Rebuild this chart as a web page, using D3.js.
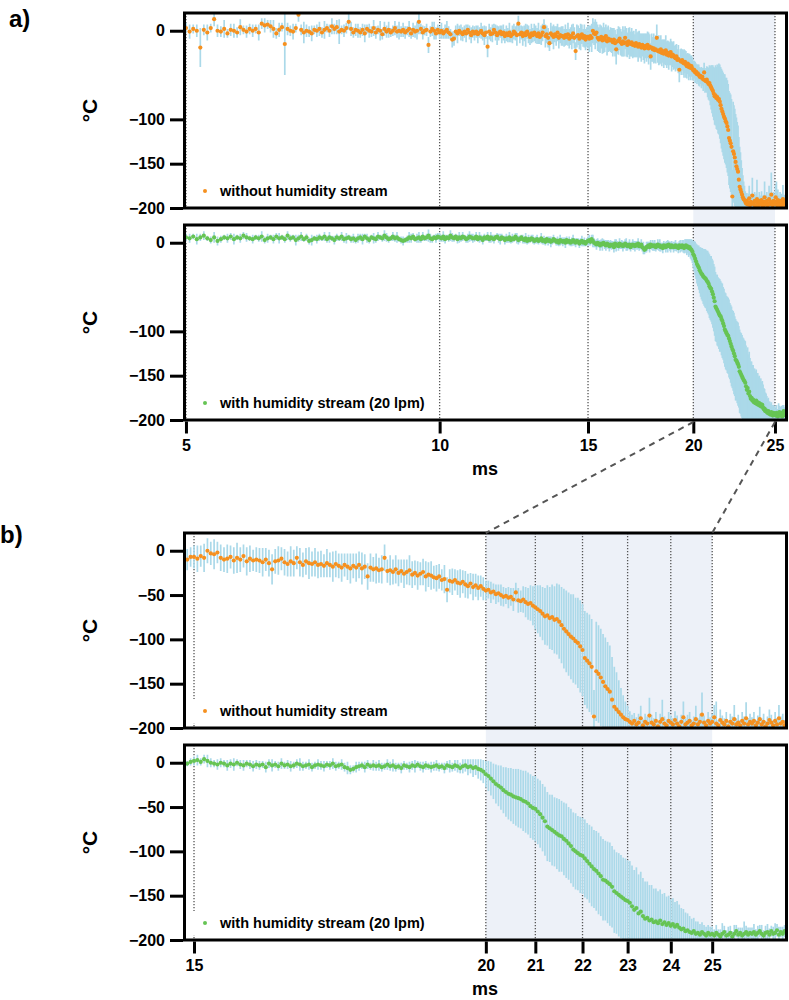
<!DOCTYPE html>
<html><head><meta charset="utf-8">
<script src="https://cdn.jsdelivr.net/npm/d3@7"></script>
<style>
body{margin:0;background:#fff}
svg{display:block}
text{font-family:"Liberation Sans",Arial,Helvetica,sans-serif;font-weight:bold;fill:#000}
</style></head><body>
<svg id="chart" width="789" height="1000"></svg>
<script>
// ---------- DATA ----------
const timeMs = [
5.00,5.05,5.10,5.15,5.20,5.25,5.30,5.35,5.40,5.45,5.50,5.55,5.60,5.65,5.70,5.75,5.80,5.85,5.90,5.95,
6.00,6.05,6.10,6.15,6.20,6.25,6.30,6.35,6.40,6.45,6.50,6.55,6.60,6.65,6.70,6.75,6.80,6.85,6.90,6.95,
7.00,7.05,7.10,7.15,7.20,7.25,7.30,7.35,7.40,7.45,7.50,7.55,7.60,7.65,7.70,7.75,7.80,7.85,7.90,7.95,
8.00,8.05,8.10,8.15,8.20,8.25,8.30,8.35,8.40,8.45,8.50,8.55,8.60,8.65,8.70,8.75,8.80,8.85,8.90,8.95,
9.00,9.05,9.10,9.15,9.20,9.25,9.30,9.35,9.40,9.45,9.50,9.55,9.60,9.65,9.70,9.75,9.80,9.85,9.90,9.95,
10.00,10.05,10.10,10.15,10.20,10.25,10.30,10.35,10.40,10.45,10.50,10.55,10.60,10.65,10.70,10.75,10.80,10.85,10.90,10.95,
11.00,11.05,11.10,11.15,11.20,11.25,11.30,11.35,11.40,11.45,11.50,11.55,11.60,11.65,11.70,11.75,11.80,11.85,11.90,11.95,
12.00,12.05,12.10,12.15,12.20,12.25,12.30,12.35,12.40,12.45,12.50,12.55,12.60,12.65,12.70,12.75,12.80,12.85,12.90,12.95,
13.00,13.05,13.10,13.15,13.20,13.25,13.30,13.35,13.40,13.45,13.50,13.55,13.60,13.65,13.70,13.75,13.80,13.85,13.90,13.95,
14.00,14.05,14.10,14.15,14.20,14.25,14.30,14.35,14.40,14.45,14.50,14.55,14.60,14.65,14.70,14.75,14.80,14.85,14.90,14.95,
15.00,15.05,15.10,15.15,15.20,15.25,15.30,15.35,15.40,15.45,15.50,15.55,15.60,15.65,15.70,15.75,15.80,15.85,15.90,15.95,
16.00,16.05,16.10,16.15,16.20,16.25,16.30,16.35,16.40,16.45,16.50,16.55,16.60,16.65,16.70,16.75,16.80,16.85,16.90,16.95,
17.00,17.05,17.10,17.15,17.20,17.25,17.30,17.35,17.40,17.45,17.50,17.55,17.60,17.65,17.70,17.75,17.80,17.85,17.90,17.95,
18.00,18.05,18.10,18.15,18.20,18.25,18.30,18.35,18.40,18.45,18.50,18.55,18.60,18.65,18.70,18.75,18.80,18.85,18.90,18.95,
19.00,19.05,19.10,19.15,19.20,19.25,19.30,19.35,19.40,19.45,19.50,19.55,19.60,19.65,19.70,19.75,19.80,19.85,19.90,19.95,
20.00,20.05,20.10,20.15,20.20,20.25,20.30,20.35,20.40,20.45,20.50,20.55,20.60,20.65,20.70,20.75,20.80,20.85,20.90,20.95,
21.00,21.05,21.10,21.15,21.20,21.25,21.30,21.35,21.40,21.45,21.50,21.55,21.60,21.65,21.70,21.75,21.80,21.85,21.90,21.95,
22.00,22.05,22.10,22.15,22.20,22.25,22.30,22.35,22.40,22.45,22.50,22.55,22.60,22.65,22.70,22.75,22.80,22.85,22.90,22.95,
23.00,23.05,23.10,23.15,23.20,23.25,23.30,23.35,23.40,23.45,23.50,23.55,23.60,23.65,23.70,23.75,23.80,23.85,23.90,23.95,
24.00,24.05,24.10,24.15,24.20,24.25,24.30,24.35,24.40,24.45,24.50,24.55,24.60,24.65,24.70,24.75,24.80,24.85,24.90,24.95,
25.00,25.05,25.10,25.15,25.20,25.25,25.30,25.35,25.40,25.45,25.50,25.55,25.60,25.65,25.70,25.75,25.80,25.85,25.90,25.95,
26.00,26.05,26.10,26.15,26.20,26.25,26.30,26.35,26.40,26.45,26.50,26.55,26.60,26.65,26.70,26.75,26.80,26.85,26.90
];
// without humidity stream (°C)
const tempDry = [
3,-1,2,0,-19,1,-2,3,13,0,-1,2,-3,1,0,-2,4,1,-1,2,
0,2,-2,8,6,7,5,2,-3,1,4,-15,2,0,-1,3,18,1,-2,0,
-1,-3,1,0,2,-2,1,3,0,5,2,4,-1,1,0,3,10,2,-2,1,
0,-2,1,-3,2,0,-1,3,-2,1,0,-4,2,-1,1,-2,0,3,-1,0,
-1,1,-2,0,2,-3,1,-1,0,10,2,-2,0,1,-16,-1,2,0,-3,1,
-2,0,-3,-1,1,-2,-4,-10,-9,-1,-3,0,-2,-4,-1,-3,1,-2,-5,-1,
-3,-1,-4,-2,0,-3,-5,-2,-18,-1,-4,-3,1,-2,-5,-3,-1,-4,-2,-6,
-3,-5,-2,-6,-4,-1,-3,-5,8,-4,-2,-6,-3,-5,-1,-4,-7,-3,-5,-2,
-4,-6,-3,-7,-5,-2,4,-6,-4,-8,-14,-3,-5,-7,-4,-6,-2,-8,-5,-6,
-6,-8,-5,-7,-4,-9,-6,-7,-3,-8,-23,-6,-5,-9,-7,-4,-8,-6,-10,-7,
-7,-9,-6,-8,0,-3,-4,-2,-8,-10,-9,-7,-11,-8,-10,-6,-12,-9,-11,-10,
-11,-13,-10,-14,-21,-12,-11,-9,-13,-15,-12,-14,-8,-13,-16,-12,-14,-15,-13,-16,
-15,-17,-14,-16,-18,-15,-17,-19,-16,-18,-20,-17,-19,-16,-20,-18,-29,-19,-21,-20,
-22,-21,-8,-23,-22,-24,-21,-25,-23,-26,-24,-22,-27,-25,-28,-26,-24,-29,-27,-28,
-30,-31,-29,-33,-32,-44,-34,-35,-33,-36,-37,-35,-38,-40,-37,-41,-39,-42,-40,-43,
-45,-44,-47,-46,-49,-48,-50,-52,-51,-53,-52,-55,-47,-56,-57,-55,-58,-60,-59,-62,
-64,-66,-68,-71,-74,-73,-76,-75,-78,-77,-80,-84,-88,-91,-94,-97,-99,-102,-104,-108,
-112,-121,-124,-127,-131,-187,-136,-139,-143,-148,-153,-156,-159,-168,-176,-179,-182,-185,-188,-190,
-191,-193,-195,-192,-196,-194,-189,-197,-193,-195,-186,-194,-196,-192,-198,-193,-190,-195,-197,-192,
-194,-196,-191,-195,-198,-193,-188,-196,-194,-192,-197,-195,-190,-196,-193,-185,-194,-197,-192,-195,
-193,-188,-195,-197,-191,-194,-196,-192,-198,-193,-195,-190,-196,-194,-197,-192,-195,-189,-196,-193,
-195,-192,-197,-194,-190,-196,-193,-198,-195,-191,-194,-197,-192,-196,-189,-195,-193,-197,-194
];
const errDry = [
6,8,5,7,22,6,9,5,8,7,6,10,5,7,8,6,9,5,7,6,
7,5,9,6,8,5,7,10,6,8,5,35,7,6,9,5,8,6,12,7,
6,9,5,7,8,6,10,5,7,9,6,8,14,5,7,6,9,8,6,7,
8,6,7,10,5,8,6,9,7,5,11,6,8,7,9,5,6,8,7,10,
6,8,7,5,9,6,8,7,10,14,6,8,5,7,9,6,8,10,7,6,
7,9,6,8,10,7,6,9,8,7,11,6,9,8,7,10,6,8,9,7,
8,7,10,6,9,8,11,7,12,9,8,10,7,9,11,8,7,10,9,8,
9,8,11,7,10,9,8,12,9,10,8,11,9,13,8,10,9,11,8,10,
10,9,12,8,11,10,9,13,10,11,9,12,10,14,9,11,10,12,9,11,
11,10,12,9,13,11,10,14,11,12,10,13,11,12,15,11,10,13,12,11,
13,15,12,16,14,13,17,12,15,14,16,13,15,17,14,13,16,15,12,14,
14,16,13,15,17,14,16,13,15,14,17,15,13,16,14,15,18,14,16,15,
15,13,16,14,17,15,14,16,13,15,17,14,16,15,18,14,15,16,14,17,
14,16,15,13,17,14,16,15,13,16,14,17,15,14,16,13,15,17,14,16,
13,15,14,12,16,14,13,15,12,14,16,13,15,14,12,15,13,14,12,13,
11,10,12,9,11,10,12,11,9,12,10,13,11,14,12,15,17,18,20,22,
25,27,29,30,32,34,35,37,38,40,42,43,45,46,47,48,50,49,51,52,
52,53,54,55,54,30,56,55,55,54,55,53,52,48,45,42,36,30,25,20,
16,12,10,9,8,10,14,7,9,8,20,9,7,10,6,9,22,8,7,10,
8,7,10,9,6,8,18,7,9,10,6,8,15,7,9,25,8,6,10,7,
9,14,25,6,12,8,7,10,6,9,8,16,7,9,6,10,8,18,7,9,
7,10,6,8,14,7,9,6,8,12,9,6,10,7,15,8,9,6,8
];
// with humidity stream, 20 lpm (°C)
const tempHumid = [
6,5,7,4,6,8,5,3,6,2,4,6,5,7,4,6,5,8,6,5,
4,6,5,7,3,5,6,4,7,5,6,4,8,5,6,3,5,7,4,6,
2,3,5,4,6,5,7,4,6,5,3,6,5,7,4,5,6,4,5,3,
5,6,4,7,5,3,6,5,4,7,6,5,8,6,4,5,7,5,6,4,
3,2,3,4,6,5,7,4,5,6,4,7,5,6,8,5,4,6,5,7,
6,5,7,4,6,5,8,6,5,7,4,6,5,7,6,4,5,7,6,5,
5,7,4,6,5,3,6,5,7,4,6,5,4,6,7,5,4,6,5,3,
5,4,6,3,5,4,7,5,3,4,6,4,3,5,2,4,3,5,4,2,
3,4,2,3,5,2,3,1,4,2,3,1,2,4,3,1,2,0,3,2,
1,2,0,3,1,2,0,1,3,1,0,2,1,-1,1,2,0,1,-1,1,
2,3,1,4,2,0,-1,-2,0,-1,-3,-1,-2,0,-2,-3,-1,-2,-4,-2,
-3,-2,-5,-1,-3,-2,-4,-1,-3,-2,-4,-3,-1,-2,-4,-3,-2,-5,-3,-2,
-3,-4,-2,-3,-1,-4,-3,-2,-5,-6,-8,-7,-5,-4,-3,-5,-2,-4,-3,-4,
-3,-5,-4,-2,-4,-3,-5,-4,-6,-3,-4,-5,-3,-4,-2,-4,-5,-3,-4,-5,
-4,-3,-5,-4,-6,-3,-4,-5,-3,-4,-6,-4,-3,-5,-4,-6,-5,-7,-8,-10,
-13,-15,-18,-21,-24,-26,-28,-31,-33,-35,-36,-38,-39,-40,-41,-43,-44,-46,-49,-51,
-52,-55,-58,-62,-66,-72,-74,-76,-78,-80,-82,-83,-86,-88,-91,-94,-98,-100,-102,-104,
-105,-108,-111,-114,-117,-120,-122,-125,-128,-132,-133,-135,-137,-140,-145,-147,-149,-151,-153,-155,
-156,-158,-162,-166,-164,-170,-168,-173,-176,-175,-178,-177,-180,-179,-181,-178,-182,-180,-183,-181,
-184,-182,-185,-183,-186,-188,-187,-190,-189,-191,-192,-190,-193,-192,-194,-191,-193,-195,-192,-194,
-193,-195,-192,-194,-196,-193,-191,-195,-194,-192,-196,-193,-190,-194,-192,-195,-193,-191,-194,-192,
-193,-191,-194,-192,-190,-193,-195,-192,-191,-194,-190,-193,-192,-189,-194,-191,-193,-190,-192
];
const errHumid = [
4,5,3,6,4,5,3,4,6,5,4,3,5,4,6,3,5,4,5,3,
5,3,4,6,4,5,3,5,4,6,3,4,5,4,3,6,4,5,3,4,
4,6,3,5,4,3,5,4,6,3,5,4,3,5,4,6,3,4,5,4,
5,4,6,3,5,4,3,6,4,5,3,4,6,5,4,3,5,4,6,3,
4,5,3,4,6,5,4,3,5,6,4,5,3,4,7,5,4,3,5,4,
5,4,6,5,3,4,6,5,4,3,5,6,4,5,3,4,5,6,4,5,
4,5,3,6,4,5,4,3,5,4,6,4,5,3,4,5,6,4,3,5,
5,4,6,4,5,3,4,6,5,4,3,5,4,6,4,5,3,4,5,4,
4,5,4,3,6,4,5,4,3,5,4,6,4,5,3,4,5,4,6,4,
5,4,6,4,3,5,4,5,6,4,5,3,4,5,4,6,4,5,3,4,
5,6,4,5,7,5,4,6,5,4,6,5,7,4,5,6,4,5,6,5,
5,4,6,5,7,4,5,6,4,5,6,4,5,7,5,4,6,5,4,6,
5,6,4,5,6,5,4,6,5,7,5,4,6,5,4,6,5,4,6,5,
6,5,4,6,5,7,5,4,6,5,4,6,5,7,4,5,6,5,4,6,
5,6,5,4,6,5,7,5,6,7,6,8,7,9,8,10,9,11,12,13,
15,17,19,20,22,23,25,26,28,29,30,31,32,33,33,34,35,35,36,36,
37,37,38,38,39,39,38,40,39,40,41,40,41,42,41,42,42,43,42,43,
43,44,43,44,45,44,45,46,45,46,45,46,47,46,47,46,47,47,46,47,
46,47,46,45,46,44,45,43,42,41,40,39,38,37,36,35,34,33,32,31,
30,29,28,27,26,24,22,21,19,18,16,15,14,13,12,11,10,10,9,9,
8,7,9,6,8,12,7,6,9,8,6,10,7,8,6,9,14,7,8,6,
7,9,6,8,7,10,6,8,9,7,6,8,11,7,9,6,8,7,9
];
const seriesLabels = ["without humidity stream", "with humidity stream (20 lpm)"];
const xTicksA = [5, 10, 15, 20, 25];
const xTicksB = [15, 20, 21, 22, 23, 24, 25];
const yTicksA = [0, -100, -150, -200];
const yTicksB = [0, -50, -100, -150, -200];
const zoomWindowMs = [20, 25];

// ---------- STYLE / LAYOUT ----------
const C = {dry:"#f5901f", humid:"#66c454", err:"#abd9e9", band:"#edf1f8", grid:"#555"};
const L = 184.5, R = 786.5;
const svg = d3.select("#chart");

const series = [
  {v: tempDry, e: errDry, color: C.dry, label: seriesLabels[0]},
  {v: tempHumid, e: errHumid, color: C.humid, label: seriesLabels[1]}
];

const panels = [
  {name:"a)", lx:9, ly:27, domain:[4.98, 25.8], xticks:xTicksA, yticks:yTicksA,
   subs:[{top:13, bottom:208}, {top:225, bottom:420}]},
  {name:"b)", lx:0, ly:543, domain:[14.86, 26.9], xticks:xTicksB, yticks:yTicksB,
   subs:[{top:533, bottom:728}, {top:745, bottom:940}]}
];

const defs = svg.append("defs");
const xScales = [];

panels.forEach((p, pi) => {
  const x = d3.scaleLog().domain(p.domain).range([L, R]);
  xScales.push(x);
  const g = svg.append("g");

  // shaded zoom window
  g.append("rect")
    .attr("x", x(zoomWindowMs[0])).attr("width", x(zoomWindowMs[1]) - x(zoomWindowMs[0]))
    .attr("y", p.subs[0].top).attr("height", p.subs[1].bottom - p.subs[0].top)
    .attr("fill", C.band);

  p.subs.forEach((s, si) => {
    const y = d3.scaleLinear().domain([-200, 20]).range([s.bottom, s.top]);
    const ser = series[si];
    const cid = `clip${pi}${si}`;
    defs.append("clipPath").attr("id", cid).append("rect")
      .attr("x", L).attr("y", s.top).attr("width", R - L).attr("height", s.bottom - s.top);

    // dotted vertical guides
    g.append("g").selectAll("line").data(p.xticks).join("line")
      .attr("x1", d => x(d)).attr("x2", d => x(d))
      .attr("y1", s.top).attr("y2", s.bottom)
      .attr("stroke", C.grid).attr("stroke-width", 1.3).attr("stroke-dasharray", "1.3,1.7");

    const idx = d3.range(timeMs.length).filter(i => timeMs[i] >= p.domain[0] * 0.99 && timeMs[i] <= p.domain[1] * 1.01);
    const dg = g.append("g").attr("clip-path", `url(#${cid})`);
    dg.append("g").selectAll("line").data(idx).join("line")
      .attr("x1", i => x(timeMs[i])).attr("x2", i => x(timeMs[i]))
      .attr("y1", i => y(ser.v[i] + ser.e[i])).attr("y2", i => y(ser.v[i] - ser.e[i]))
      .attr("stroke", C.err).attr("stroke-width", 1.7);
    dg.append("g").selectAll("circle").data(idx).join("circle")
      .attr("cx", i => x(timeMs[i])).attr("cy", i => y(ser.v[i]))
      .attr("r", 2.1).attr("fill", ser.color);

    // legend
    const ly = s.bottom - 17;
    g.append("rect").attr("x", 188).attr("y", ly - 12).attr("width", 215).attr("height", 24).attr("fill", "#fff");
    g.append("circle").attr("cx", 205).attr("cy", ly).attr("r", 2).attr("fill", ser.color);
    g.append("text").attr("x", 220).attr("y", ly).attr("dy", "0.36em")
      .style("font-size", "14.5px").text(ser.label);

    // frame
    g.append("rect").attr("x", L).attr("y", s.top).attr("width", R - L).attr("height", s.bottom - s.top)
      .attr("fill", "none").attr("stroke", "#000").attr("stroke-width", 3);

    // y axis
    const ya = g.append("g").attr("transform", `translate(${L - 1.5},0)`)
      .call(d3.axisLeft(y).tickValues(p.yticks).tickSize(13).tickPadding(5).tickFormat(d3.format("d")));
    ya.select(".domain").remove();
    ya.selectAll(".tick line").attr("stroke", "#000").attr("stroke-width", 3);
    ya.selectAll(".tick text").style("font-size", "16px").style("font-family", "'Liberation Sans',Arial,sans-serif").style("font-weight", "bold");

    // y label
    g.append("text").attr("transform", `translate(97,${(s.top + s.bottom) / 2}) rotate(-90)`)
      .attr("text-anchor", "middle").style("font-size", "21px").text("°C");
  });

  // x axis
  const xb = p.subs[1].bottom;
  const xa = g.append("g").attr("transform", `translate(0,${xb + 1.5})`)
    .call(d3.axisBottom(x).tickValues(p.xticks).tickSize(12).tickPadding(6).tickFormat(d3.format("d")));
  xa.select(".domain").remove();
  xa.selectAll(".tick line").attr("stroke", "#000").attr("stroke-width", 3);
  xa.selectAll(".tick text").style("font-size", "16px").style("font-family", "'Liberation Sans',Arial,sans-serif").style("font-weight", "bold");
  g.append("text").attr("x", 485).attr("y", xb + 55).attr("text-anchor", "middle")
    .style("font-size", "18px").text("ms");

  g.append("text").attr("x", p.lx).attr("y", p.ly).style("font-size", "24px").text(p.name);
});

// connector lines from window in a) to b)
const xa = xScales[0], xbS = xScales[1];
svg.append("g").selectAll("line").data(zoomWindowMs).join("line")
  .attr("x1", d => xa(d)).attr("y1", panels[0].subs[1].bottom + 2)
  .attr("x2", d => xbS(d)).attr("y2", panels[1].subs[0].top)
  .attr("stroke", "#555").attr("stroke-width", 2).attr("stroke-dasharray", "6,5");
</script>
</body></html>
